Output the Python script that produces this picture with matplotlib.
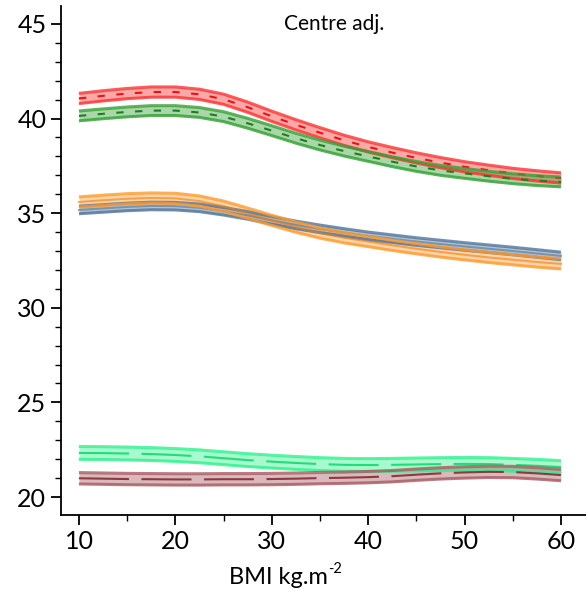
import matplotlib
matplotlib.use("Agg")
import matplotlib.pyplot as plt
from matplotlib.ticker import MultipleLocator

bmi = [10, 12.5, 15, 17.5, 20, 22.5, 25, 27.5, 30, 32.5, 35, 37.5, 40,
       42.5, 45, 47.5, 50, 52.5, 55, 57.5, 60]

red_mean = [41.06, 41.2, 41.32, 41.4, 41.4, 41.28, 41.02, 40.6, 40.12, 39.67, 39.25,
            38.85, 38.5, 38.2, 37.92, 37.67, 37.45, 37.27, 37.1, 36.97, 36.86]
green_mean = [40.14, 40.25, 40.35, 40.42, 40.42, 40.32, 40.1, 39.75, 39.36, 38.96, 38.6,
              38.28, 38.0, 37.72, 37.47, 37.26, 37.1, 36.95, 36.82, 36.72, 36.65]
orange_mean = [35.59, 35.68, 35.76, 35.8, 35.78, 35.64, 35.37, 35.0, 34.62, 34.26, 33.95,
               33.7, 33.5, 33.3, 33.12, 32.95, 32.8, 32.66, 32.54, 32.42, 32.32]
blue_mean = [35.17, 35.25, 35.33, 35.38, 35.37, 35.28, 35.1, 34.88, 34.62, 34.38, 34.17,
             33.98, 33.8, 33.65, 33.5, 33.37, 33.24, 33.12, 33.0, 32.87, 32.74]
mint_mean = [22.33, 22.32, 22.3, 22.27, 22.22, 22.15, 22.05, 21.95, 21.87, 21.8, 21.74,
             21.7, 21.69, 21.7, 21.72, 21.74, 21.75, 21.74, 21.7, 21.65, 21.58]
maroon_mean = [20.99, 20.97, 20.95, 20.94, 20.93, 20.93, 20.94, 20.94, 20.95, 20.97, 21.0,
               21.02, 21.05, 21.1, 21.18, 21.25, 21.3, 21.33, 21.32, 21.25, 21.16]

red_hw = 0.27
green_hw = 0.26
orange_hw = 0.27
blue_hw = 0.2
mint_hw = 0.34
maroon_hw = 0.3

series = [
    (red_mean, red_hw, '#ff3030', '#ee1010', (0, (3.5, 5.5))),
    (green_mean, green_hw, '#33a033', '#1a801a', (0, (3.5, 5.5))),
    (blue_mean, blue_hw, '#4f7499', '#4f7499', None),
    (orange_mean, orange_hw, '#ff9a2e', '#e8801a', None),
    (mint_mean, mint_hw, '#2ef28c', '#22dd77', (0, (24, 6))),
    (maroon_mean, maroon_hw, '#a85a60', '#8a3a40', (0, (24, 6))),
]

plt.rcParams['font.family'] = ['Lato', 'DejaVu Sans']

fig = plt.figure(figsize=(5.86, 5.94), dpi=100)
ax = fig.add_axes([0.104, 0.133, 0.896, 0.857])

for mean, hw, col, lcol, ls in series:
    lo = [m - hw for m in mean]
    hi = [m + hw for m in mean]
    ax.fill_between(bmi, lo, hi, color=col, alpha=0.42, linewidth=0)
    ax.plot(bmi, lo, color=col, lw=2.2, alpha=0.8, solid_capstyle='butt')
    ax.plot(bmi, hi, color=col, lw=2.2, alpha=0.8, solid_capstyle='butt')
    if ls is not None:
        ax.plot(bmi, mean, color=lcol, lw=1.5, linestyle=ls)
    else:
        ax.plot(bmi, mean, color=lcol, lw=1.5, alpha=0.6)

ax.set_xlim(8.13, 62.6)
ax.set_ylim(19.05, 45.95)
ax.xaxis.set_major_locator(MultipleLocator(10))
ax.xaxis.set_minor_locator(MultipleLocator(5))
ax.yaxis.set_major_locator(MultipleLocator(5))
ax.yaxis.set_minor_locator(MultipleLocator(1))
ax.tick_params(axis='both', which='major', direction='out', length=7, width=1.3,
               labelsize=18, color='black')
ax.tick_params(axis='both', which='minor', direction='out', length=4.5, width=1.0)
ax.spines['top'].set_visible(False)
ax.spines['right'].set_visible(False)
ax.spines['left'].set_linewidth(1.3)
ax.spines['bottom'].set_linewidth(1.3)

ax.text(0.52, 0.965, 'Centre adj.', transform=ax.transAxes, ha='center', va='center',
        fontsize=15)

# x label with small superscript
lab = fig.text(278 / 586, 1 - 577 / 594, 'BMI kg.m', ha='center', va='center', fontsize=17)
fig.canvas.draw()
bb = lab.get_window_extent()
fig.text(bb.x1 / 586 + 0.001, bb.y1 / 594 - 0.004, '-2', ha='left', va='center', fontsize=10.5)

fig.savefig('out.png', dpi=100)
